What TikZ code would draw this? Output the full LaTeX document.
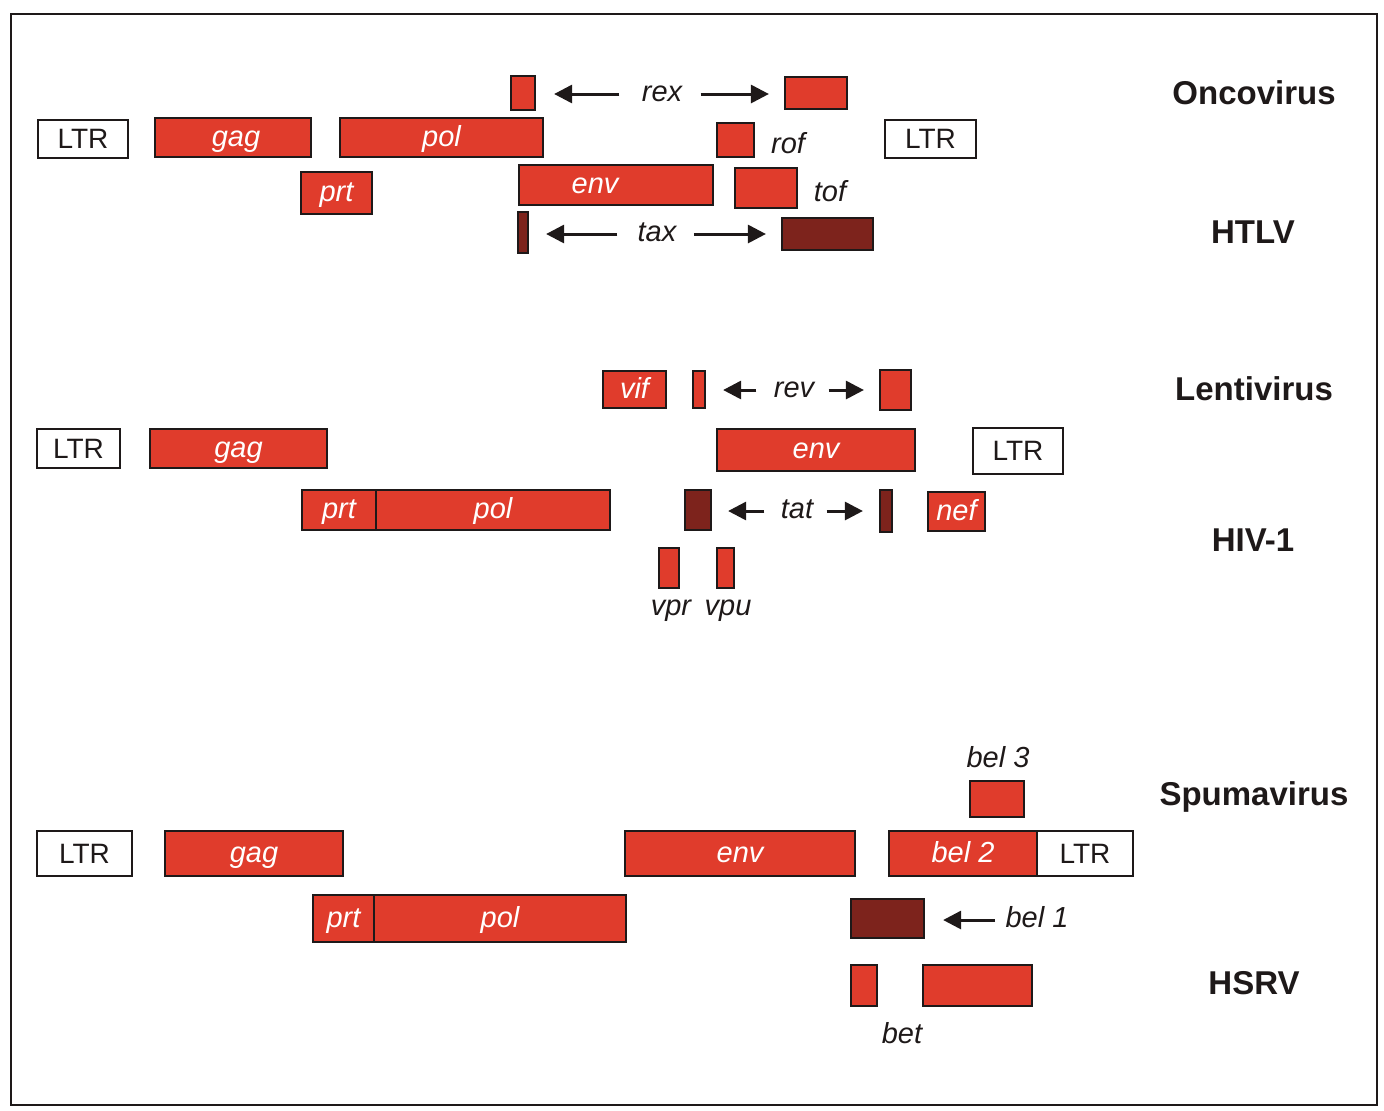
\documentclass[tikz,border=0pt]{standalone}
\usepackage{fontspec}
\setmainfont{Liberation Sans}
\usetikzlibrary{arrows.meta}
\definecolor{genered}{RGB}{224,60,44}
\definecolor{genedark}{RGB}{125,35,28}
\definecolor{lineblk}{RGB}{30,25,25}
\newcommand\gbox[7]{%
  \pgfmathsetmacro\gcx{(#3+#5)/2}\pgfmathsetmacro\gcy{(#4+#6)/2}%
  \pgfmathsetmacro\gww{(#5-#3)*0.5}\pgfmathsetmacro\ghh{(#6-#4)*0.5}%
  \node[#1,minimum width=\gww pt,minimum height=\ghh pt] (#2) at (\gcx,\gcy) {#7};}
\tikzset{
  gene/.style={draw=lineblk,line width=1.1pt,fill=genered,text=white,inner sep=0pt,
     text height=8.5pt,text depth=0pt,
     font=\fontsize{14.5}{16}\selectfont\itshape},
  darkgene/.style={gene,fill=genedark},
  ltrbox/.style={draw=lineblk,line width=1.1pt,fill=white,text=lineblk,inner sep=0pt,
     font=\fontsize{14}{16}\selectfont},
  lbl/.style={inner sep=0pt,text=lineblk,text height=7.5pt,text depth=0pt,
     font=\fontsize{14.5}{16}\selectfont\itshape},
  title/.style={inner sep=0pt,text=lineblk,font=\fontsize{16.5}{18}\selectfont\bfseries},
  arr/.style={draw=lineblk,line width=1.5pt,-{Triangle[length=9pt,width=9pt]}},
}
\begin{document}
\begin{tikzpicture}[x=0.5pt,y=-0.5pt]
\useasboundingbox (0,0) rectangle (1384,1110);
\draw[lineblk,line width=1pt] (11,14) rectangle (1377,1105);

% ---------------- Oncovirus / HTLV ----------------
\gbox{gene}{rexL}{511}{76}{535}{110}{}
\gbox{gene}{rexR}{785}{77}{847}{109}{}
\node[lbl] (rex) at (662,94) {rex};
\draw[arr,shorten <=11pt,shorten >=9pt] (rex.west) -- (rex.west -| rexL.east);
\draw[arr,shorten <=9pt,shorten >=7.5pt] (rex.east) -- (rex.east -| rexR.west);

\gbox{ltrbox}{ltrA1}{38}{120}{128}{158}{LTR}
\gbox{gene}{gagA}{155}{118}{311}{157}{\hspace*{3pt}gag}
\gbox{gene}{polA}{340}{118}{543}{157}{pol}
\gbox{gene}{rofB}{717}{123}{754}{157}{}
\node[lbl] (rof) at (788,146) {rof};
\gbox{ltrbox}{ltrA2}{885}{120}{976}{158}{LTR}

\gbox{gene}{prtA}{301}{172}{372}{214}{prt}
\gbox{gene}{envA}{519}{165}{713}{205}{\hspace*{-21pt}env}
\gbox{gene}{tofB}{735}{168}{797}{208}{}
\node[lbl] (tof) at (830,194) {tof};

\gbox{darkgene}{taxL}{518}{212}{528}{253}{}
\gbox{darkgene}{taxR}{782}{218}{873}{250}{}
\node[lbl] (tax) at (657,234) {tax};
\draw[arr,shorten <=10pt,shorten >=8.5pt] (tax.west) -- (tax.west -| taxL.east);
\draw[arr,shorten <=8.5pt,shorten >=7.5pt] (tax.east) -- (tax.east -| taxR.west);

\node[title] (onco) at (1254,93) {Oncovirus};
\node[title] (htlv) at (1253,232) {HTLV};

% ---------------- Lentivirus / HIV-1 ----------------
\gbox{gene}{vif}{603}{371}{666}{408}{vif}
\gbox{gene}{revL}{693}{371}{705}{408}{}
\gbox{gene}{revR}{880}{370}{911}{410}{}
\node[lbl] (rev) at (794,390) {rev};
\draw[arr,shorten <=8.5pt,shorten >=8.5pt] (rev.west) -- (rev.west -| revL.east);
\draw[arr,shorten <=7pt,shorten >=7.5pt] (rev.east) -- (rev.east -| revR.west);

\gbox{ltrbox}{ltrB1}{37}{429}{120}{468}{LTR}
\gbox{gene}{gagB}{150}{429}{327}{468}{gag}
\gbox{gene}{envB}{717}{429}{915}{471}{env}
\gbox{ltrbox}{ltrB2}{973}{428}{1063}{474}{LTR}

\gbox{gene}{prtB}{302}{490}{376}{530}{prt}
\gbox{gene}{polB}{376}{490}{610}{530}{pol}
\gbox{darkgene}{tatL}{685}{490}{711}{530}{}
\gbox{darkgene}{tatR}{880}{490}{892}{532}{}
\node[lbl] (tat) at (797,511) {tat};
\draw[arr,shorten <=8pt,shorten >=8pt] (tat.west) -- (tat.west -| tatL.east);
\draw[arr,shorten <=6.5pt,shorten >=8pt] (tat.east) -- (tat.east -| tatR.west);
\gbox{gene}{nef}{928}{492}{985}{531}{nef}

\gbox{gene}{vprB}{659}{548}{679}{588}{}
\gbox{gene}{vpuB}{717}{548}{734}{588}{}
\node[lbl] (vpr) at (671,608) {vpr};
\node[lbl] (vpu) at (728,608) {vpu};

\node[title] (lenti) at (1254,389) {Lentivirus};
\node[title] (hiv) at (1253,540) {HIV-1};

% ---------------- Spumavirus / HSRV ----------------
\node[lbl] (bel3) at (998,760) {bel 3};
\gbox{gene}{bel3B}{970}{781}{1024}{817}{}

\gbox{ltrbox}{ltrC1}{37}{831}{132}{876}{LTR}
\gbox{gene}{gagC}{165}{831}{343}{876}{gag}
\gbox{gene}{envC}{625}{831}{855}{876}{env}
\gbox{gene}{bel2}{889}{831}{1037}{876}{bel 2}
\gbox{ltrbox}{ltrC2}{1037}{831}{1133}{876}{LTR}

\gbox{gene}{prtC}{313}{895}{374}{942}{prt}
\gbox{gene}{polC}{374}{895}{626}{942}{pol}
\gbox{darkgene}{bel1B}{851}{899}{924}{938}{}
\node[lbl] (bel1) at (1037,920) {bel 1};
\draw[arr,shorten <=5pt,shorten >=9pt] (bel1.west) -- (bel1.west -| bel1B.east);

\gbox{gene}{betL}{851}{965}{877}{1006}{}
\gbox{gene}{betR}{923}{965}{1032}{1006}{}
\node[lbl] (bet) at (902,1036) {bet};

\node[title] (spuma) at (1254,797) {Spumavirus};
\node[title] (hsrv) at (1254,983) {HSRV};
\end{tikzpicture}
\end{document}
